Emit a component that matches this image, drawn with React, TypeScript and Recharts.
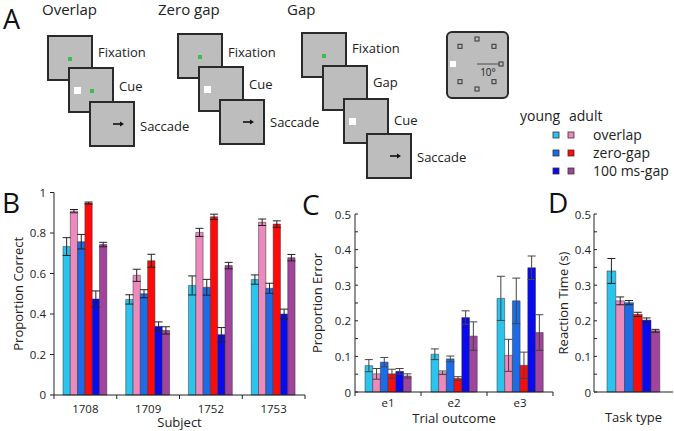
import React from "react"
import { BarChart, Bar, XAxis, YAxis, ErrorBar } from "recharts"

const FONT = '"Open Sans", sans-serif'
const INK = "#222"

// bar order: young overlap, adult overlap, young zero-gap, adult zero-gap, young gap, adult gap
const seriesKeys = ["yOverlap", "aOverlap", "yZero", "aZero", "yGap", "aGap"]
const seriesColors = ["#2bc4ee", "#ec8abe", "#1c6ce8", "#ff0a0a", "#0a0aee", "#a0449c"]
const legendLabels = ["overlap", "zero-gap", "100 ms-gap"]

// B: proportion correct per subject
const subjects = ["1708", "1709", "1752", "1753"]
const correctYOverlap = [0.733, 0.472, 0.541, 0.57]
const correctAOverlap = [0.908, 0.591, 0.803, 0.853]
const correctYZero = [0.757, 0.5, 0.532, 0.527]
const correctAZero = [0.948, 0.663, 0.88, 0.844]
const correctYGap = [0.474, 0.339, 0.298, 0.4]
const correctAGap = [0.743, 0.319, 0.639, 0.678]
const correctErrYOverlap = [0.044, 0.023, 0.047, 0.023]
const correctErrAOverlap = [0.008, 0.03, 0.02, 0.016]
const correctErrYZero = [0.036, 0.02, 0.039, 0.025]
const correctErrAZero = [0.005, 0.032, 0.013, 0.016]
const correctErrYGap = [0.04, 0.022, 0.035, 0.024]
const correctErrAGap = [0.011, 0.018, 0.016, 0.016]

// C: proportion error per trial outcome
const outcomes = ["e1", "e2", "e3"]
const errorYOverlap = [0.074, 0.106, 0.263]
const errorAOverlap = [0.051, 0.054, 0.103]
const errorYZero = [0.084, 0.093, 0.256]
const errorAZero = [0.051, 0.038, 0.075]
const errorYGap = [0.058, 0.209, 0.349]
const errorAGap = [0.045, 0.157, 0.167]
const errorErrYOverlap = [0.017, 0.015, 0.062]
const errorErrAOverlap = [0.015, 0.005, 0.045]
const errorErrYZero = [0.013, 0.008, 0.064]
const errorErrAZero = [0.013, 0.005, 0.037]
const errorErrYGap = [0.008, 0.019, 0.033]
const errorErrAGap = [0.006, 0.04, 0.05]

// D: reaction time (s)
const taskTypes = [""]
const rtYOverlap = [0.34]
const rtAOverlap = [0.256]
const rtYZero = [0.251]
const rtAZero = [0.218]
const rtYGap = [0.202]
const rtAGap = [0.172]
const rtErrYOverlap = [0.035]
const rtErrAOverlap = [0.011]
const rtErrYZero = [0.006]
const rtErrAZero = [0.006]
const rtErrYGap = [0.006]
const rtErrAGap = [0.004]

const correctTicks = [0, 0.2, 0.4, 0.6, 0.8, 1]
const halfTicks = [0, 0.05, 0.1, 0.15, 0.2, 0.25, 0.3, 0.35, 0.4, 0.45, 0.5]

function buildRows(names: string[], vals: number[][], errs: number[][]) {
  return names.map((name, i) => {
    const row: Record<string, any> = { name }
    seriesKeys.forEach((k, s) => {
      row[k] = vals[s][i]
      row[k + "_e"] = errs[s][i]
    })
    return row
  })
}

const correctRows = buildRows(
  subjects,
  [correctYOverlap, correctAOverlap, correctYZero, correctAZero, correctYGap, correctAGap],
  [correctErrYOverlap, correctErrAOverlap, correctErrYZero, correctErrAZero, correctErrYGap, correctErrAGap]
)
const errorRows = buildRows(
  outcomes,
  [errorYOverlap, errorAOverlap, errorYZero, errorAZero, errorYGap, errorAGap],
  [errorErrYOverlap, errorErrAOverlap, errorErrYZero, errorErrAZero, errorErrYGap, errorErrAGap]
)
const rtRows = buildRows(
  taskTypes,
  [rtYOverlap, rtAOverlap, rtYZero, rtAZero, rtYGap, rtAGap],
  [rtErrYOverlap, rtErrAOverlap, rtErrYZero, rtErrAZero, rtErrYGap, rtErrAGap]
)

const yTitle = (text: string, dx: number) => (p: any) => {
  const vb = p.viewBox || {}
  const cx = vb.x + dx
  const cy = vb.y + vb.height / 2
  return (
    <text x={cx} y={cy} transform={`rotate(-90 ${cx} ${cy})`} textAnchor="middle"
      dominantBaseline="central" fontSize={13} fill={INK} fontFamily={FONT}>
      {text}
    </text>
  )
}

const xTitle = (text: string, dy: number) => (p: any) => {
  const vb = p.viewBox || {}
  return (
    <text x={vb.x + vb.width / 2} y={vb.y + dy} textAnchor="middle" dominantBaseline="central"
      fontSize={13} fill={INK} fontFamily={FONT}>
      {text}
    </text>
  )
}

// category labels with tick marks on the band edges
const bandTick = (last: number, labelDy: number) => (props: any) => {
  const { x, y, payload, index } = props
  const half = payload?.offset ?? 0
  const axisY = y - 4
  return (
    <g>
      <line x1={x - half} x2={x - half} y1={axisY} y2={axisY + 4} stroke={INK} />
      {index === last && <line x1={x + half} x2={x + half} y1={axisY} y2={axisY + 4} stroke={INK} />}
      <text x={x} y={axisY + labelDy} textAnchor="middle" dominantBaseline="central"
        fontSize={11.5} fill={INK} fontFamily={FONT}>
        {payload.value}
      </text>
    </g>
  )
}

// inward ticks with minor marks every 0.05
const inTick = (margin: number) => (props: any) => {
  const { x, y, payload } = props
  const ax = x + margin
  const v = payload.value
  const major = Math.round(v * 100) % 10 === 0
  return (
    <g>
      <line x1={ax} x2={ax + 3} y1={y} y2={y} stroke={INK} />
      {major && (
        <text x={x} y={y} textAnchor="end" dominantBaseline="central" fontSize={11.5}
          fill={INK} fontFamily={FONT}>
          {v === 0 ? "0" : v.toFixed(1)}
        </text>
      )}
    </g>
  )
}

function renderBars(errColor: string) {
  return seriesKeys.map((k, i) => (
    <Bar key={k} dataKey={k} fill={seriesColors[i]} stroke="#333" strokeWidth={0.5}
      isAnimationActive={false}>
      <ErrorBar dataKey={k + "_e"} width={4} strokeWidth={1} stroke={errColor} />
    </Bar>
  ))
}

const tasks = [
  {
    title: "Overlap", tx: 42,
    frames: [
      { x: 48, y: 36, label: "Fixation", ly: 57, fix: true, cue: false, arrow: false },
      { x: 69, y: 68, label: "Cue", ly: 91, fix: true, cue: true, arrow: false },
      { x: 90, y: 102, label: "Saccade", ly: 131, fix: false, cue: false, arrow: true },
    ],
  },
  {
    title: "Zero gap", tx: 158,
    frames: [
      { x: 178, y: 34, label: "Fixation", ly: 57, fix: true, cue: false, arrow: false },
      { x: 199, y: 67, label: "Cue", ly: 89, fix: false, cue: true, arrow: false },
      { x: 220, y: 100, label: "Saccade", ly: 127, fix: false, cue: false, arrow: true },
    ],
  },
  {
    title: "Gap", tx: 287,
    frames: [
      { x: 302, y: 33, label: "Fixation", ly: 53, fix: true, cue: false, arrow: false },
      { x: 323, y: 66, label: "Gap", ly: 87, fix: false, cue: false, arrow: false },
      { x: 344, y: 99, label: "Cue", ly: 125, fix: false, cue: true, arrow: false },
      { x: 367, y: 134, label: "Saccade", ly: 162, fix: false, cue: false, arrow: true },
    ],
  },
]

const targetAngles = [0, 45, 90, 135, 180, 225, 270, 315]

function Diagram() {
  const cx = 477
  const cy = 64
  return (
    <svg width={674} height={431} style={{ position: "absolute", left: 0, top: 0 }} fontFamily={FONT}>
      <text x={3} y={29} fontSize={27} fill="#111">A</text>
      <text x={2} y={213} fontSize={28} fill="#111">B</text>
      <text x={302} y={215} fontSize={28} fill="#111">C</text>
      <text x={548} y={213} fontSize={28} fill="#111">D</text>
      {tasks.map((t) => (
        <g key={t.title}>
          <text x={t.tx} y={15} fontSize={15} fill={INK}>{t.title}</text>
          {t.frames.map((f, i) => (
            <g key={i}>
              <rect x={f.x} y={f.y} width={44} height={44} fill="#bdbdbd" stroke="#2a2a2a" strokeWidth={2} />
              {f.fix && <rect x={f.x + (f.cue ? 21 : 20)} y={f.y + 21} width={4} height={4} fill="#3cbe4c" />}
              {f.cue && <rect x={f.x + 5} y={f.y + 19} width={7} height={7} fill="#fff" />}
              {f.arrow && (
                <g>
                  <line x1={f.x + 23} x2={f.x + 31} y1={f.y + 22} y2={f.y + 22} stroke="#111" strokeWidth={1.6} />
                  <path d={`M${f.x + 34},${f.y + 22} L${f.x + 30},${f.y + 19.5} L${f.x + 30},${f.y + 24.5} Z`} fill="#111" />
                </g>
              )}
              <text x={f.x + 50} y={f.ly} fontSize={13} fill={INK}>{f.label}</text>
            </g>
          ))}
        </g>
      ))}
      <rect x={447} y={32} width={61} height={66} rx={5} fill="#bdbdbd" stroke="#2a2a2a" strokeWidth={2} />
      {targetAngles.map((a) => {
        const tx = cx + 24 * Math.cos((a * Math.PI) / 180)
        const ty = cy + 25 * Math.sin((a * Math.PI) / 180)
        return a === 180 ? (
          <rect key={a} x={tx - 3} y={ty - 3} width={6} height={6} fill="#fff" />
        ) : (
          <rect key={a} x={tx - 2} y={ty - 2} width={4} height={4} fill="none" stroke="#333" strokeWidth={1} />
        )
      })}
      <line x1={cx} x2={cx + 22} y1={cy} y2={cy} stroke="#333" strokeWidth={0.8} />
      <text x={cx + 11} y={cy + 12} fontSize={10} textAnchor="middle" fill={INK}>10°</text>

      <text x={520} y={121} fontSize={14} fill={INK}>young</text>
      <text x={569} y={121} fontSize={14} fill={INK}>adult</text>
      {legendLabels.map((lab, r) => (
        <g key={lab}>
          <rect x={553} y={132 + r * 18} width={6} height={6} fill={seriesColors[r * 2]} stroke="#333" strokeWidth={0.8} />
          <rect x={568} y={132 + r * 18} width={6} height={6} fill={seriesColors[r * 2 + 1]} stroke="#333" strokeWidth={0.8} />
          <text x={593} y={140 + r * 18} fontSize={14} fill={INK}>{lab}</text>
        </g>
      ))}
    </svg>
  )
}

export default function App() {
  return (
    <div style={{ position: "absolute", left: 0, top: 0, width: 674, height: 431, background: "#fff", fontFamily: FONT }}>
      <Diagram />

      <div style={{ position: "absolute", left: 0, top: 180 }}>
        <BarChart width={320} height={250} data={correctRows} barGap={0} barSize={7.3}
          margin={{ top: 12.5, right: 15, left: 4, bottom: 0 }}>
          <XAxis dataKey="name" height={35} tickLine={false} tickSize={0} tickMargin={4}
            axisLine={{ stroke: INK }} interval={0} tick={bandTick(subjects.length - 1, 13)}
            label={xTitle("Subject", 27)} />
          <YAxis width={50} domain={[0, 1]} ticks={correctTicks} interval={0} tickSize={4} tickMargin={4}
            axisLine={{ stroke: INK }} tickLine={{ stroke: INK }}
            tick={{ fontSize: 11.5, fill: INK, fontFamily: FONT }}
            tickFormatter={(v: number) => (v === 0 || v === 1 ? String(v) : v.toFixed(1))}
            label={yTitle("Proportion Correct", 14)} />
          {renderBars(INK)}
        </BarChart>
      </div>

      <div style={{ position: "absolute", left: 300, top: 200 }}>
        <BarChart width={260} height={230} data={errorRows} barGap={0} barSize={7.7}
          margin={{ top: 14, right: 7, left: 5, bottom: 0 }}>
          <XAxis dataKey="name" height={38} tickLine={false} tickSize={0} tickMargin={4}
            axisLine={{ stroke: INK }} interval={0} tick={bandTick(outcomes.length - 1, 10)}
            label={xTitle("Trial outcome", 26)} />
          <YAxis width={50} domain={[0, 0.5]} ticks={halfTicks} interval={0} tickSize={0} tickMargin={4}
            tickLine={false} axisLine={{ stroke: INK }} tick={inTick(4)}
            label={yTitle("Proportion Error", 12)} />
          {renderBars("#444")}
        </BarChart>
      </div>

      <div style={{ position: "absolute", left: 540, top: 200 }}>
        <BarChart width={134} height={230} data={rtRows} barGap={0} barSize={8.8}
          margin={{ top: 14, right: 1, left: 4, bottom: 0 }}>
          <XAxis dataKey="name" height={38} tick={false} tickLine={false} axisLine={{ stroke: INK }}
            label={xTitle("Task type", 25)} />
          <YAxis width={50} domain={[0, 0.5]} ticks={halfTicks} interval={0} tickSize={0} tickMargin={3}
            tickLine={false} axisLine={{ stroke: INK }} tick={inTick(3)}
            label={yTitle("Reaction Time (s)", 19)} />
          {renderBars(INK)}
        </BarChart>
      </div>
    </div>
  )
}
